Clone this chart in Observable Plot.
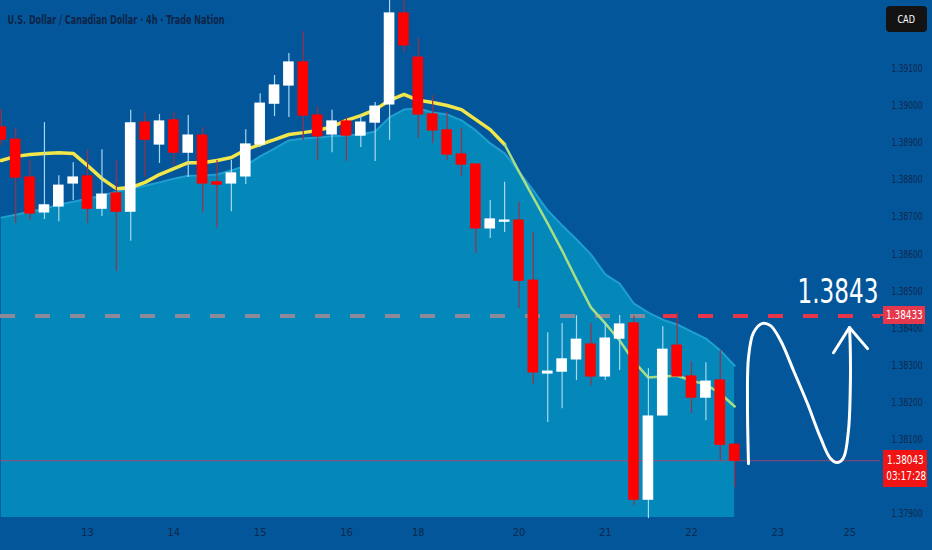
<!DOCTYPE html>
<html><head><meta charset="utf-8">
<script src="https://cdn.jsdelivr.net/npm/d3@7"></script>
<script src="https://cdn.jsdelivr.net/npm/@observablehq/plot@0.6"></script>
<style>
html,body{margin:0;padding:0;background:#03569a;}
#wrap{position:relative;width:932px;height:550px;overflow:hidden;}
.ov{position:absolute;color:#fff;font-family:'DejaVu Sans Condensed','DejaVu Sans',sans-serif;text-align:center;white-space:nowrap;}
.ov span{display:inline-block;transform:scaleX(0.86);transform-origin:center;}
</style></head><body><div id="wrap"></div>
<script>
const FONT = "'DejaVu Sans Condensed','DejaVu Sans',sans-serif";
const title = "U.S. Dollar / Canadian Dollar · 4h · Trade Nation";
const currency = "CAD";

const open = [1.38941,1.38908,1.38806,1.38712,1.38728,1.38790,1.38809,1.38722,1.38763,1.38714,
  1.38954,1.38895,1.38960,1.38873,1.38919,1.38793,1.38790,1.38809,1.38895,1.39005,
  1.39054,1.39116,1.38973,1.38922,1.38957,1.38919,1.38954,1.39003,1.39248,1.39129,
  1.38976,1.38933,1.38868,1.38841,1.38669,1.38687,1.38690,1.38528,1.38278,1.38283,
  1.38316,1.38356,1.38270,1.38372,1.38413,1.37938,1.38165,1.38353,1.38270,1.38213,
  1.38259,1.38086];
const high = [1.38990,1.38938,1.38852,1.38954,1.38811,1.38846,1.38881,1.38881,1.38852,1.38987,
  1.38979,1.38976,1.38981,1.38973,1.38941,1.38852,1.38852,1.38935,1.39032,1.39081,
  1.39140,1.39199,1.38997,1.38987,1.38968,1.38973,1.39008,1.39300,1.39290,1.39181,
  1.39027,1.38981,1.38938,1.38841,1.38744,1.38793,1.38739,1.38658,1.38388,1.38413,
  1.38434,1.38413,1.38413,1.38434,1.38432,1.38291,1.38404,1.38440,1.38310,1.38307,
  1.38340,1.38086];
const low = [1.38892,1.38682,1.38690,1.38693,1.38687,1.38744,1.38682,1.38701,1.38553,1.38634,
  1.38806,1.38844,1.38838,1.38806,1.38712,1.38671,1.38714,1.38787,1.38887,1.38970,
  1.38968,1.38906,1.38852,1.38873,1.38849,1.38887,1.38849,1.38906,1.39143,1.38911,
  1.38898,1.38852,1.38809,1.38601,1.38642,1.38658,1.38453,1.38248,1.38146,1.38183,
  1.38259,1.38245,1.38259,1.38286,1.37922,1.37887,1.38165,1.38270,1.38170,1.38151,
  1.38043,1.37971];
const close = [1.38908,1.38806,1.38709,1.38731,1.38784,1.38806,1.38722,1.38760,1.38714,1.38952,
  1.38908,1.38957,1.38873,1.38919,1.38790,1.38787,1.38817,1.38895,1.39005,1.39054,
  1.39116,1.38973,1.38917,1.38957,1.38919,1.38954,1.38997,1.39248,1.39162,1.38976,
  1.38933,1.38868,1.38841,1.38669,1.38693,1.38690,1.38528,1.38281,1.38283,1.38316,
  1.38369,1.38270,1.38372,1.38410,1.37938,1.38162,1.38342,1.38270,1.38213,1.38256,
  1.38086,1.38043];
const ema = [1.38852,1.38863,1.38868,1.38871,1.38873,1.38871,1.38838,1.38803,1.38776,1.38779,
  1.38793,1.38814,1.38830,1.38846,1.38846,1.38852,1.38860,1.38881,1.38895,1.38908,
  1.38922,1.38927,1.38933,1.38943,1.38960,1.38973,1.38989,1.39014,1.39030,1.39014,
  1.39008,1.39000,1.38989,1.38962,1.38935,1.38895,1.38822,1.38752,1.38682,1.38609,
  1.38531,1.38456,1.38413,1.38367,1.38310,1.38267,1.38270,1.38272,1.38259,1.38248,
  1.38224,1.38189];
const band = [1.38698,1.38706,1.38714,1.38722,1.38733,1.38741,1.38749,1.38757,1.38768,1.38776,
  1.38784,1.38793,1.38803,1.38811,1.38811,1.38814,1.38825,1.38838,1.38863,1.38884,
  1.38906,1.38911,1.38914,1.38917,1.38919,1.38922,1.38930,1.38968,1.38989,1.38992,
  1.38981,1.38976,1.38960,1.38933,1.38898,1.38871,1.38822,1.38771,1.38717,1.38677,
  1.38639,1.38599,1.38545,1.38520,1.38466,1.38442,1.38423,1.38410,1.38391,1.38372,
  1.38340,1.38299];

const dayTicks = [6,12,18,24,29,36,42,48,54,59];
const dayLabels = ["13","14","15","16","18","20","21","22","23","25"];
// 1.38000 sits under the last-price tag in the reference, so it is not listed
const priceTicks = [1.379,1.381,1.382,1.383,1.384,1.385,1.386,1.387,1.388,1.389,1.390,1.391];

const targetLevel = 1.38433;
const targetText = "1.3843";
const lastPrice = 1.38043;
const countdown = "03:17:28";

// hand-drawn projection (candle index, price)
const arrowX = [51.96,51.89,51.96,52.31,52.93,53.49,54.19,55.09,56.06,56.97,57.66,58.15,58.57,58.91,59.04,59.03,58.98];
const arrowY = [1.38035,1.38197,1.38321,1.38388,1.38413,1.38407,1.38367,1.38286,1.38197,1.38105,1.38049,1.38038,1.38051,1.38124,1.38240,1.38360,1.38402];
const headX = [57.87,58.98,60.24];
const headY = [1.38334,1.38402,1.38345];

const xDomain = [-0.0556, 61.14];
const yDomain = [1.37890, 1.39283];
const idx = d3.range(open.length);
const candles = idx.map(i => ({i, o: open[i], h: high[i], l: low[i], c: close[i], up: close[i] >= open[i]}));
const emaPts = idx.map(i => ({i, v: ema[i]}));
const bandPts = idx.map(i => ({i, v: band[i]}));
const arrow = arrowX.map((x, k) => ({x, y: arrowY[k]}));
const head = headX.map((x, k) => ({x, y: headY[k]}));
const labelOf = new Map(dayTicks.map((t, k) => [t, dayLabels[k]]));
const half = 0.37;

const chart = Plot.plot({
  width: 932, height: 550,
  marginLeft: 0, marginRight: 52, marginTop: 0, marginBottom: 33,
  style: {background: "#03569a", fontFamily: FONT, overflow: "visible"},
  x: {domain: xDomain, axis: null},
  y: {domain: yDomain, axis: null},
  marks: [
    Plot.areaY(bandPts, {x: "i", y1: yDomain[0], y2: "v", fill: "#0487b9"}),
    Plot.line(bandPts, {x: "i", y: "v", stroke: "#1f9fd0", strokeWidth: 2}),
    Plot.ruleY([{y: targetLevel, x1: xDomain[0], x2: 45.3}], {y: "y", x1: "x1", x2: "x2", stroke: "#8c8a99", strokeWidth: 4, strokeDasharray: "15,20"}),
    Plot.line(emaPts.filter(d => d.i <= 35), {x: "i", y: "v", stroke: "#f2e64a", strokeWidth: 3.5}),
    Plot.line(emaPts.filter(d => d.i >= 35), {x: "i", y: "v", stroke: "#a6de86", strokeWidth: 2.5}),
    Plot.ruleY([lastPrice], {stroke: "#b8466a", strokeWidth: 1, strokeOpacity: 0.8}),
    Plot.ruleY([{y: targetLevel, x1: 46.05, x2: xDomain[1]}], {y: "y", x1: "x1", x2: "x2", stroke: "#e8354a", strokeWidth: 4, strokeDasharray: "15,20"}),
    Plot.ruleX(candles, {x: "i", y1: "l", y2: "h", stroke: d => d.up ? "#a6d8f2" : "#9c3048", strokeWidth: 1.2}),
    Plot.rect(candles, {x1: d => d.i - half, x2: d => d.i + half, y1: "o", y2: "c", fill: d => d.up ? "#ffffff" : "#ff0000", insetTop: -0.6, insetBottom: -0.6}),
    Plot.line(arrow, {x: "x", y: "y", curve: "catmull-rom", stroke: "#ffffff", strokeWidth: 3, strokeLinecap: "round", strokeLinejoin: "round"}),
    Plot.line(head, {x: "x", y: "y", stroke: "#ffffff", strokeWidth: 3, strokeLinecap: "round", strokeLinejoin: "round"}),
    Plot.text([targetText], {y: targetLevel, frameAnchor: "right", textAnchor: "end", text: d => d, dx: -2, dy: -24, fill: "#ffffff", fontSize: 33, fontFamily: FONT}),
    Plot.text([title], {frameAnchor: "top-left", text: d => d, dx: 7, dy: 19, fill: "#0f2447", fontSize: 13, fontWeight: "bold", fontFamily: FONT, lineAnchor: "middle"}),
    Plot.axisX(dayTicks, {tickSize: 0, tickPadding: 11, tickFormat: d => labelOf.get(d), color: "#10284d", fontSize: 11, fontFamily: FONT, label: null}),
    Plot.axisY(priceTicks, {anchor: "right", tickSize: 0, tickPadding: 11, tickFormat: d3.format(".5f"), color: "#10284d", fontSize: 11, fontFamily: FONT, label: null})
  ]
});

const wrap = document.getElementById("wrap");
wrap.appendChild(chart);
const svg = d3.select(chart);
// narrow the lettering like the reference's condensed face
function squeeze(sel, w) { sel.attr("textLength", w).attr("lengthAdjust", "spacingAndGlyphs"); }
squeeze(svg.selectAll('g[aria-label="y-axis tick label"] text'), 31);
squeeze(svg.selectAll("text").filter(function() { return this.textContent === title; }), 217);
// horizontal-only scale about the text's anchor point
svg.selectAll("text").filter(function() { return this.textContent === targetText; }).each(function() {
  const x = parseFloat(this.getAttribute("x")) || 0;
  const t = this.getAttribute("transform") || "";
  this.setAttribute("transform", `${t} translate(${x},0) scale(0.78,1) translate(${-x},0)`);
});
const ys = chart.scale("y");

function box(css, html) {
  const d = document.createElement("div");
  d.className = "ov";
  Object.assign(d.style, css);
  d.innerHTML = html;
  wrap.appendChild(d);
}
box({left: "886px", top: "6px", width: "41px", height: "26px", lineHeight: "26px", background: "#131313", borderRadius: "4px", fontSize: "10.5px"}, "<span>" + currency + "</span>");
const yt = ys.apply(targetLevel);
box({left: "872px", top: (yt - 1) + "px", width: "12px", height: "2px", background: "#e5384c"}, "");
box({left: "883px", top: (yt - 9) + "px", width: "42px", height: "18px", lineHeight: "18px", background: "#e5384c", fontSize: "11.5px"}, "<span>" + d3.format(".5f")(targetLevel) + "</span>");
const yl = ys.apply(lastPrice);
box({left: "883px", top: (yl - 10) + "px", width: "44px", height: "37px", background: "#f01414", fontSize: "11.5px", lineHeight: "16px", paddingTop: "2px", boxSizing: "border-box"}, "<span>" + d3.format(".5f")(lastPrice) + "</span><br><span>" + countdown + "</span>");
</script></body></html>
